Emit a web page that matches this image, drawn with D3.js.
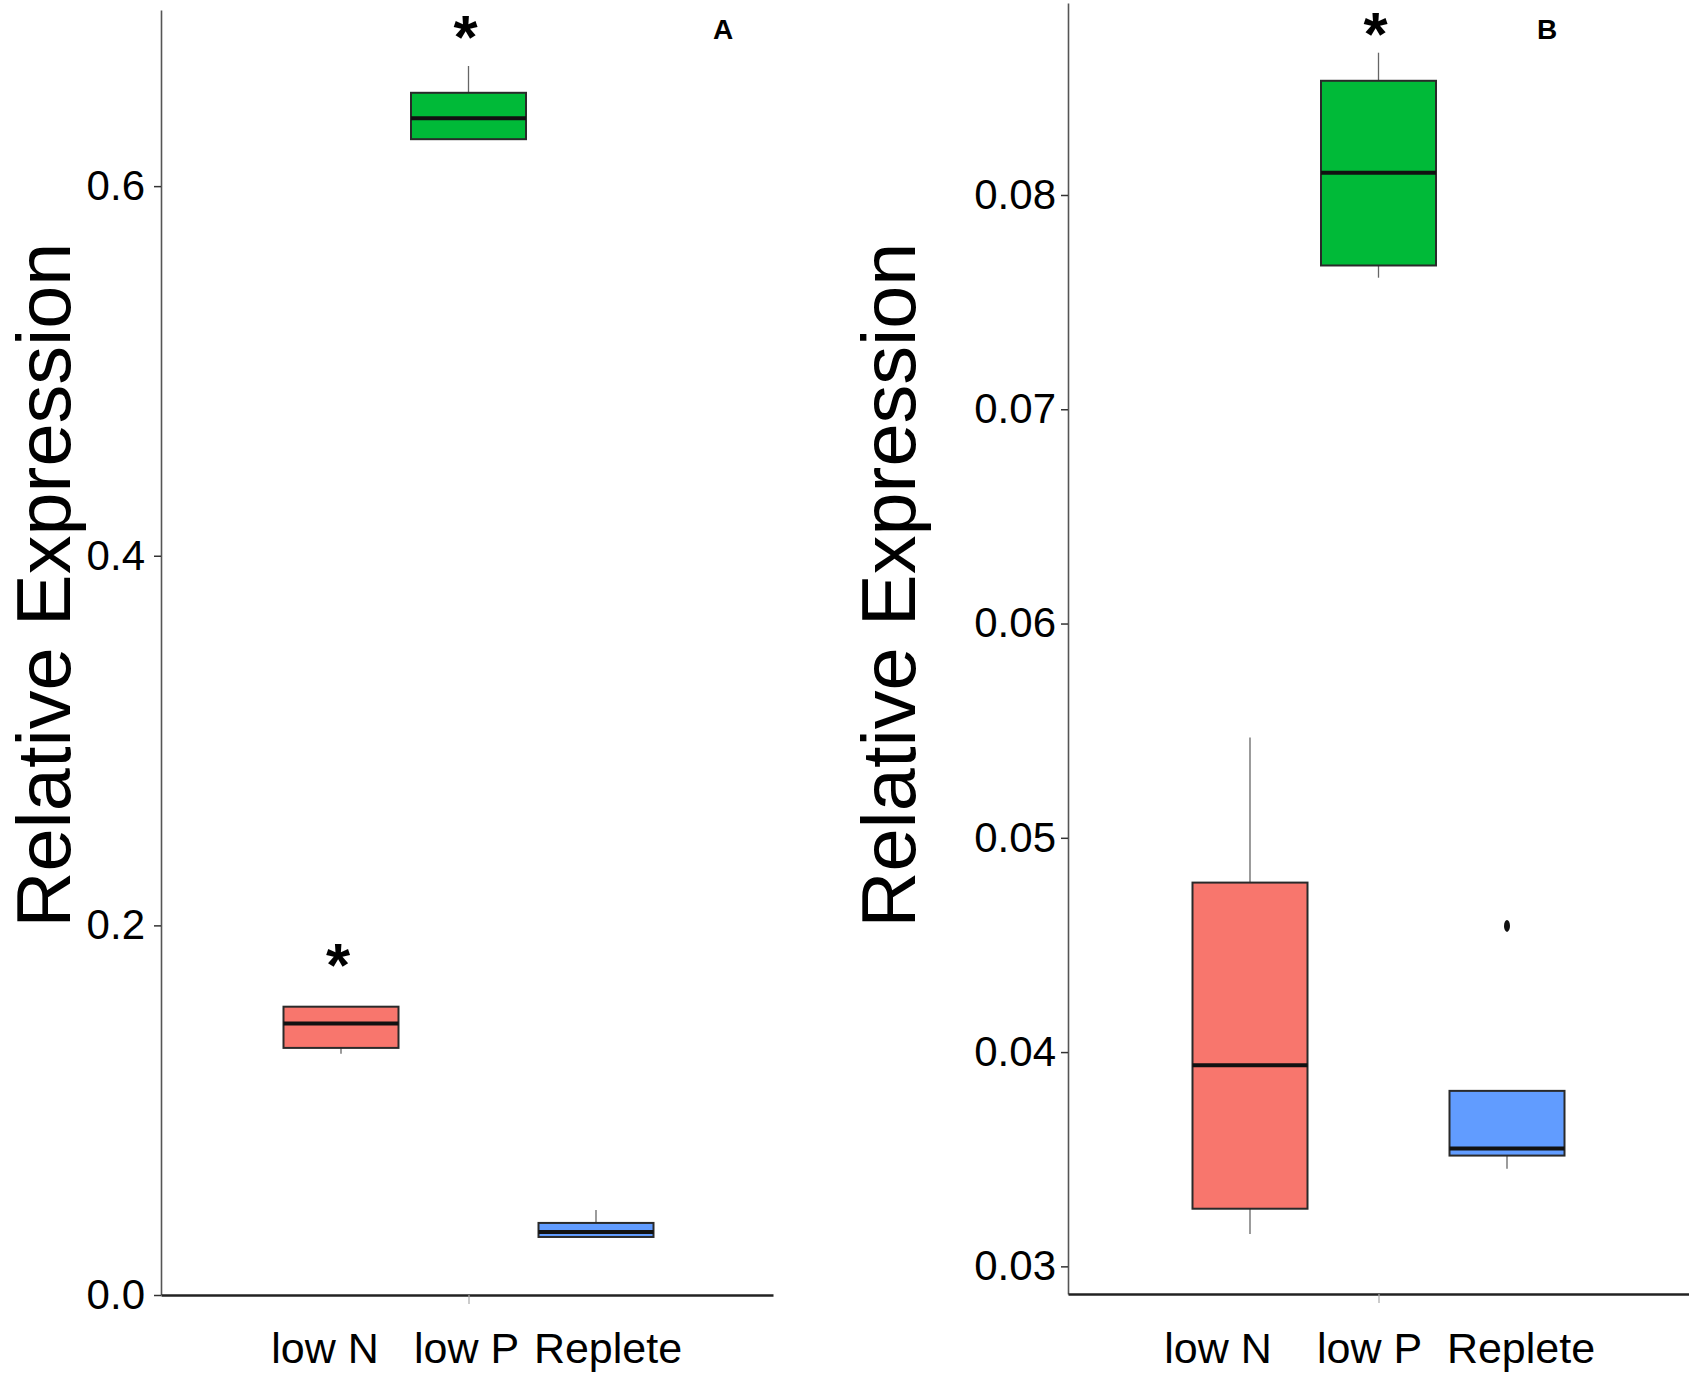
<!DOCTYPE html>
<html>
<head>
<meta charset="utf-8">
<script src="https://cdn.jsdelivr.net/npm/d3@7"></script>
<style>
    body { margin: 0; background: #fff; }
    text { font-family: "Liberation Sans", Arial, sans-serif; }
</style>
</head>
<body>
<div id="chart"></div>
<script>
const categories = ["low N", "low P", "Replete"];
const boxColors  = ["#F8766D", "#00BA38", "#619CFF"];

// panel A
const aMin    = [0.1306, 0.6254, 0.0314];
const aQ1     = [0.1337, 0.6254, 0.0314];
const aMedian = [0.1469, 0.6367, 0.0341];
const aQ3     = [0.1560, 0.6505, 0.0390];
const aMax    = [0.1560, 0.6650, 0.0460];
const aTicks  = [0, 0.2, 0.4, 0.6];
const aStars  = [["low N", 0.1867], ["low P", 0.6886]];

// panel B
const bMin    = [0.03151, 0.07614, 0.03455];
const bQ1     = [0.03269, 0.07671, 0.03517];
const bMedian = [0.03939, 0.08104, 0.03550];
const bQ3     = [0.04791, 0.08533, 0.03819];
const bMax    = [0.05468, 0.08664, 0.03819];
const bOutliers = [["Replete", 0.04589]];
const bTicks  = [0.03, 0.04, 0.05, 0.06, 0.07, 0.08];
const bStars  = [["low P", 0.08821]];

const width = 1689;
const height = 1375;

const svg = d3.select("#chart")
    .append("svg")
    .attr("width", width)
    .attr("height", height)
    .attr("viewBox", `0, 0, ${width}, ${height}`);

const drawPanel = (p) => {

    const rows = categories.map((c, i) => ({
        cat: c,
        min: p.min[i], q1: p.q1[i], med: p.median[i], q3: p.q3[i], max: p.max[i],
        color: boxColors[i]
    }));

    const yScale = d3.scaleLinear()
        .domain(p.yDomain)
        .range([p.bottom, p.top]);

    const xScale = d3.scalePoint()
        .domain(categories)
        .range(p.boxRange);

    const labelScale = d3.scalePoint()
        .domain(categories)
        .range(p.labelRange);

    const g = svg.append("g");

    // y axis
    const leftAxis = d3.axisLeft(yScale)
        .tickValues(p.ticks)
        .tickFormat(d3.format(p.fmt))
        .tickSize(7)
        .tickSizeOuter(0)
        .tickPadding(p.tickPad);

    const yAxisG = g.append("g")
        .attr("transform", `translate(${p.left}, 0)`)
        .call(leftAxis);
    yAxisG.select(".domain").attr("stroke", "#555").attr("stroke-width", 1.6);
    yAxisG.selectAll(".tick line").attr("stroke", "#333").attr("stroke-width", 1.5);
    yAxisG.selectAll(".tick text")
        .style("font-family", "'Liberation Sans', Arial, sans-serif")
        .style("font-size", "42px")
        .attr("fill", "#000");

    // x axis line
    const xLine = d3.scaleLinear().range([p.left, p.right]);
    g.append("g")
        .attr("transform", `translate(0, ${p.bottom})`)
        .call(d3.axisBottom(xLine).tickValues([]).tickSizeOuter(0))
        .select(".domain")
        .attr("stroke", "#222")
        .attr("stroke-width", 2.4);

    // single tick mark under middle group
    const tickG = g.append("g")
        .attr("transform", `translate(0, ${p.bottom})`)
        .call(d3.axisBottom(xScale).tickValues(["low P"]).tickFormat("").tickSize(9).tickSizeOuter(0));
    tickG.select(".domain").remove();
    tickG.selectAll(".tick line").attr("stroke", "#aaa").attr("stroke-width", 1.2);

    // category labels
    g.selectAll(".cat-label")
        .data(categories)
        .join("text")
            .attr("class", "cat-label")
            .attr("x", d => labelScale(d))
            .attr("y", 1363)
            .attr("text-anchor", "middle")
            .style("font-size", "43px")
            .attr("fill", "#000")
            .text(d => d);

    // y title
    g.append("text")
        .attr("transform", `translate(${p.titleX}, 585) rotate(-90) scale(1.02, 1)`)
        .attr("text-anchor", "middle")
        .style("font-size", "76px")
        .attr("fill", "#000")
        .text("Relative Expression");

    const boxW = 115;

    // whiskers
    g.selectAll(".whisker")
        .data(rows)
        .join("line")
            .attr("class", "whisker")
            .attr("x1", d => xScale(d.cat))
            .attr("x2", d => xScale(d.cat))
            .attr("y1", d => yScale(d.min))
            .attr("y2", d => yScale(d.max))
            .attr("stroke", "#666")
            .attr("stroke-width", 1.3);

    // boxes
    g.selectAll(".box")
        .data(rows)
        .join("rect")
            .attr("class", "box")
            .attr("x", d => xScale(d.cat) - boxW / 2)
            .attr("width", boxW)
            .attr("y", d => yScale(d.q3))
            .attr("height", d => yScale(d.q1) - yScale(d.q3))
            .attr("fill", d => d.color)
            .attr("stroke", "#2a2a2a")
            .attr("stroke-width", 2);

    // medians
    g.selectAll(".median")
        .data(rows)
        .join("line")
            .attr("class", "median")
            .attr("x1", d => xScale(d.cat) - boxW / 2)
            .attr("x2", d => xScale(d.cat) + boxW / 2)
            .attr("y1", d => yScale(d.med))
            .attr("y2", d => yScale(d.med))
            .attr("stroke", "#111")
            .attr("stroke-width", 4);

    // outliers
    g.selectAll(".outlier")
        .data(p.outliers)
        .join("ellipse")
            .attr("class", "outlier")
            .attr("cx", d => xScale(d[0]))
            .attr("cy", d => yScale(d[1]))
            .attr("rx", 3)
            .attr("ry", 6)
            .attr("fill", "#111");

    // significance stars
    g.selectAll(".star")
        .data(p.stars)
        .join("text")
            .attr("class", "star")
            .attr("x", d => xScale(d[0]) - 3)
            .attr("y", d => yScale(d[1]) + 36)
            .attr("text-anchor", "middle")
            .style("font-size", "62px")
            .style("font-weight", "bold")
            .attr("fill", "#000")
            .text("*");

    // panel letter
    g.append("text")
        .attr("x", p.letterX)
        .attr("y", 39)
        .attr("text-anchor", "middle")
        .style("font-size", "28px")
        .style("font-weight", "bold")
        .attr("fill", "#000")
        .text(p.letter);
};

drawPanel({
    min: aMin, q1: aQ1, median: aMedian, q3: aQ3, max: aMax,
    outliers: [], stars: aStars, ticks: aTicks, fmt: ".1f",
    yDomain: [0, 0.6953], top: 10, bottom: 1295,
    left: 161, right: 773,
    boxRange: [341, 596], labelRange: [325, 608],
    tickPad: 9, titleX: 70, letter: "A", letterX: 723
});

drawPanel({
    min: bMin, q1: bQ1, median: bMedian, q3: bQ3, max: bMax,
    outliers: bOutliers, stars: bStars, ticks: bTicks, fmt: ".2f",
    yDomain: [0.02871, 0.08896], top: 3, bottom: 1294,
    left: 1068, right: 1689,
    boxRange: [1250, 1507], labelRange: [1218, 1521],
    tickPad: 5, titleX: 915, letter: "B", letterX: 1547
});
</script>
</body>
</html>
